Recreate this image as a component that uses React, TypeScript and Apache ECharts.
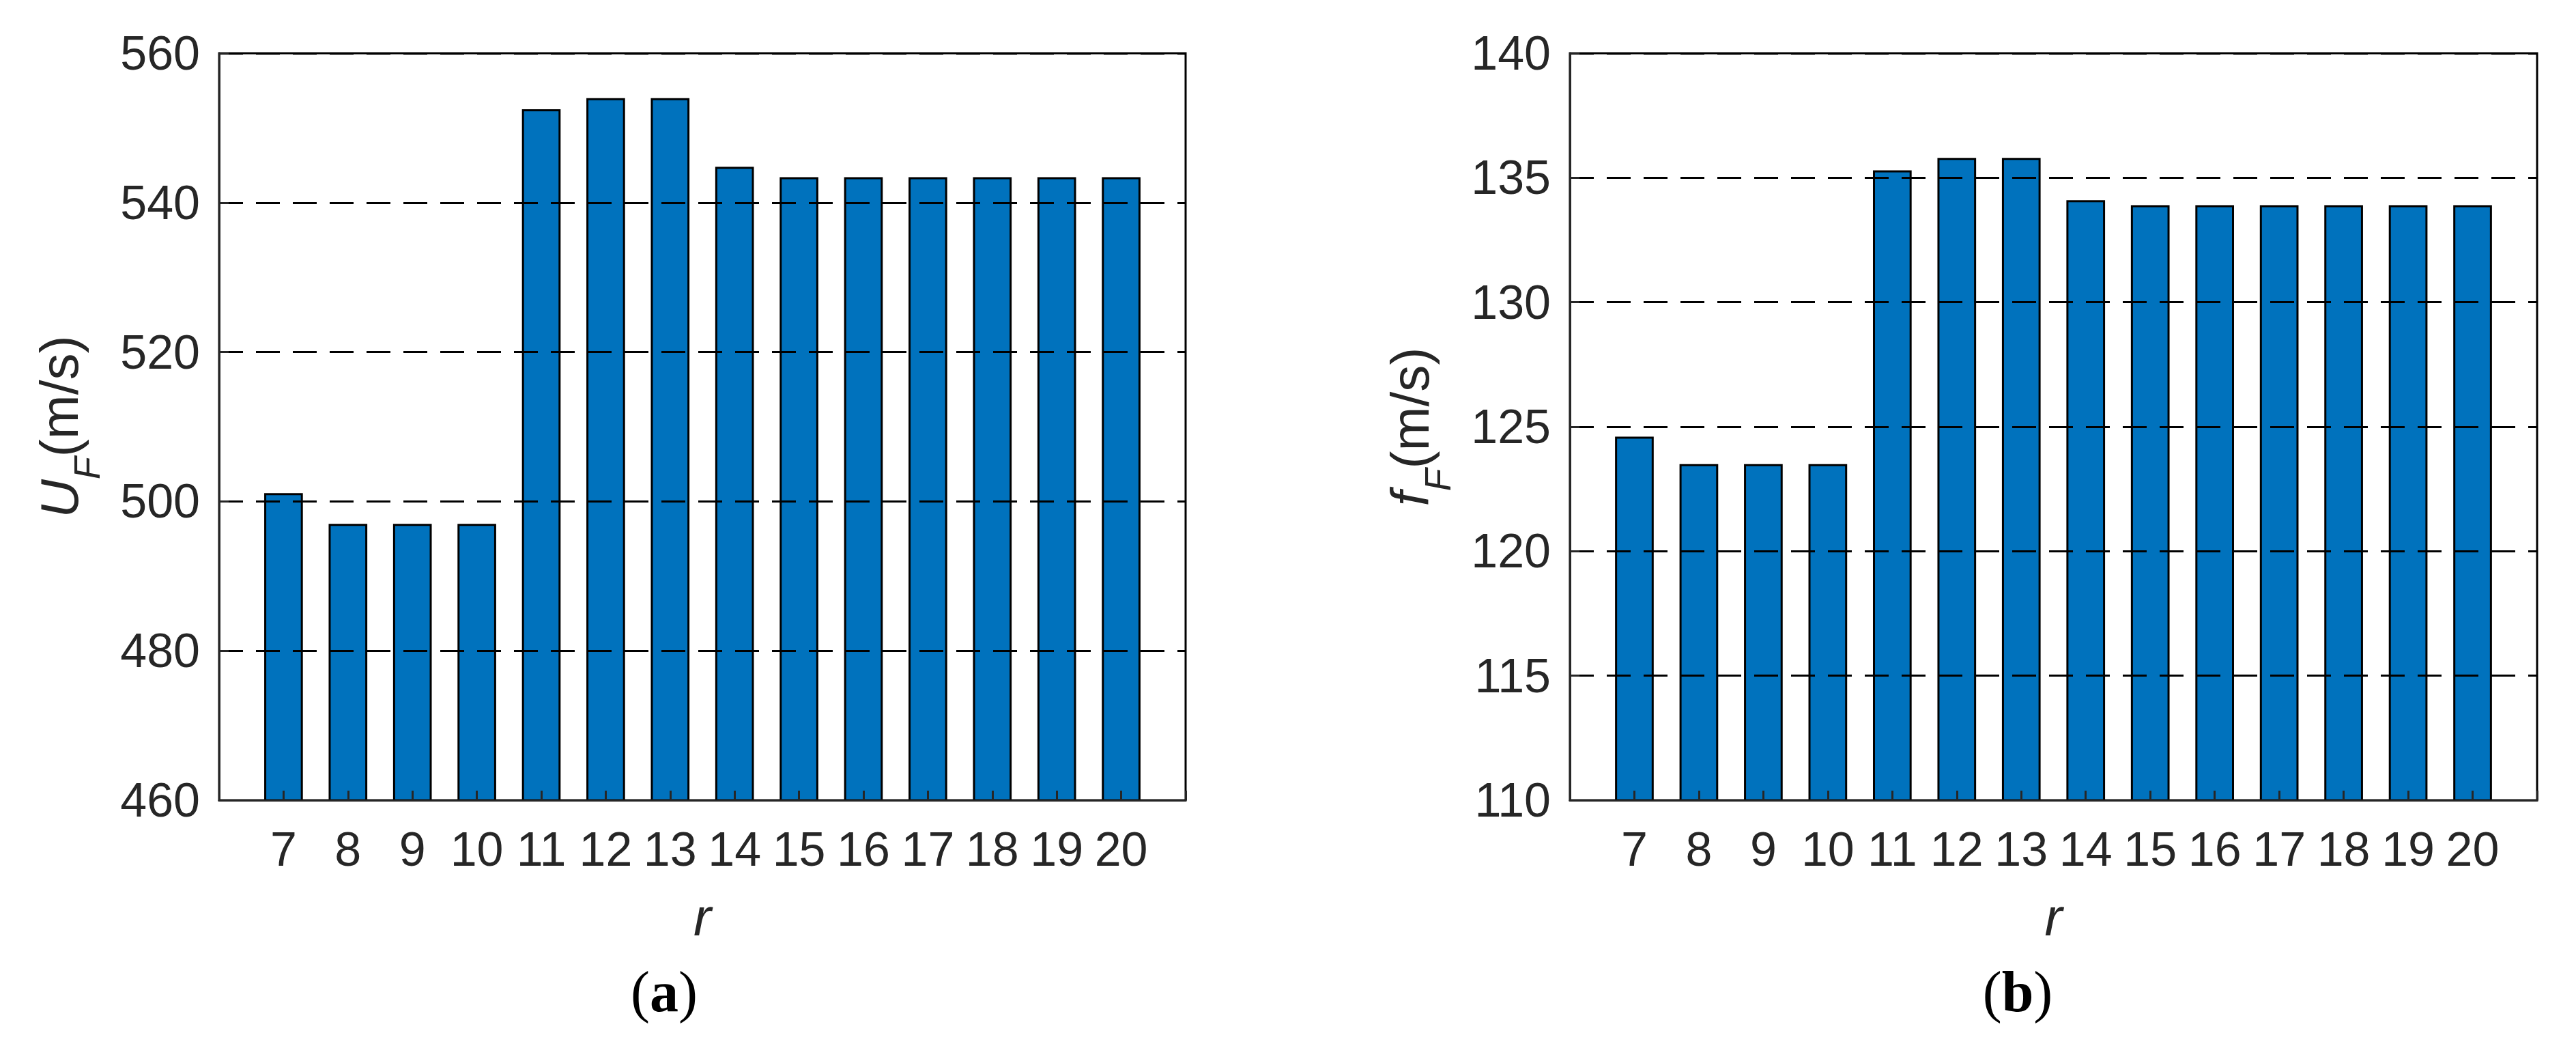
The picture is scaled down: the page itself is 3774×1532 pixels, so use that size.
import React, { useEffect, useRef } from "react";
import * as echarts from "echarts";

const categories = [7, 8, 9, 10, 11, 12, 13, 14, 15, 16, 17, 18, 19, 20];
const uF = [501.1, 497.0, 497.0, 497.0, 552.5, 554.0, 554.0, 544.8, 543.4, 543.4, 543.4, 543.4, 543.4, 543.4];
const fF = [124.6, 123.5, 123.5, 123.5, 135.3, 135.8, 135.8, 134.1, 133.9, 133.9, 133.9, 133.9, 133.9, 133.9];
const yTicksA = { min: 460, max: 560, interval: 20 };
const yTicksB = { min: 110, max: 140, interval: 5 };
const xRange = { min: 6, max: 21, interval: 1 };

const SANS = "'Liberation Sans', Arial, Helvetica, sans-serif";
const SERIF = "'Liberation Serif', 'Times New Roman', serif";
const INK = "#262626";

function titleRich() {
  return {
    i: { fontFamily: SANS, fontStyle: "italic", fontSize: 78, color: INK, verticalAlign: "bottom", padding: [0, 0, 28, 0] },
    s: { fontFamily: SANS, fontStyle: "italic", fontSize: 54, color: INK, verticalAlign: "bottom" },
    n: { fontFamily: SANS, fontSize: 78, color: INK, verticalAlign: "bottom", padding: [0, 0, 28, 0] },
  };
}

function xAxisOf(gridIndex: number) {
  return {
    type: "value",
    gridIndex,
    min: xRange.min,
    max: xRange.max,
    interval: xRange.interval,
    z: 5,
    name: "r",
    nameLocation: "middle",
    nameGap: 132,
    nameTextStyle: { fontFamily: SANS, fontStyle: "italic", fontSize: 78, color: INK },
    axisLine: { show: true, onZero: false, lineStyle: { color: INK, width: 3 } },
    axisTick: { show: true, inside: true, length: 14, lineStyle: { color: INK, width: 3 } },
    axisLabel: {
      margin: 37,
      fontFamily: SANS,
      fontSize: 70,
      color: INK,
      formatter: (v: number) => (categories.indexOf(v) >= 0 ? String(v) : ""),
    },
    splitLine: { show: false },
  };
}

function yAxisOf(gridIndex: number, t: { min: number; max: number; interval: number }, name: string) {
  return {
    type: "value",
    gridIndex,
    min: t.min,
    max: t.max,
    interval: t.interval,
    z: 5,
    name,
    nameLocation: "middle",
    nameGap: 167,
    nameTextStyle: { rich: titleRich() },
    axisLine: { show: true, onZero: false, lineStyle: { color: INK, width: 3 } },
    axisTick: { show: true, inside: true, length: 14, lineStyle: { color: INK, width: 3 } },
    axisLabel: { margin: 28, fontFamily: SANS, fontSize: 70, color: INK },
    splitLine: { show: true, lineStyle: { color: "#000", width: 3, type: [35, 19] } },
  };
}

export default function App() {
  const ref = useRef<HTMLDivElement>(null);
  useEffect(() => {
    if (!ref.current) return;
    const chart = echarts.init(ref.current, null, { renderer: "svg" });
    const dataA = categories.map((c, i) => [c, uF[i]]);
    const dataB = categories.map((c, i) => [c, fF[i]]);
    const barStyle = { color: "#0072BD", borderColor: "#000", borderWidth: 3 };
    chart.setOption({
      animation: false,
      backgroundColor: "#fff",
      grid: [
        { left: 321, top: 78, width: 1416, height: 1094, show: true, borderColor: "#000", borderWidth: 3, containLabel: false },
        { left: 2300, top: 78, width: 1417, height: 1094, show: true, borderColor: "#000", borderWidth: 3, containLabel: false },
      ],
      xAxis: [xAxisOf(0), xAxisOf(1)],
      yAxis: [
        yAxisOf(0, yTicksA, "{i|U}{s|F}{n|(m/s)}"),
        yAxisOf(1, yTicksB, "{i|f}{s|F}{n|(m/s)}"),
      ],
      series: [
        { type: "bar", xAxisIndex: 0, yAxisIndex: 0, data: dataA, barWidth: "60%", itemStyle: barStyle, z: 2 },
        { type: "bar", xAxisIndex: 1, yAxisIndex: 1, data: dataB, barWidth: "60%", itemStyle: barStyle, z: 2 },
      ],
      graphic: [
        {
          type: "text",
          x: 973,
          y: 1452,
          style: {
            text: "({b|a})",
            fontFamily: SERIF,
            fontSize: 84,
            fill: "#000",
            align: "center",
            verticalAlign: "middle",
            rich: { b: { fontFamily: SERIF, fontSize: 84, fontWeight: "bold", fill: "#000" } },
          },
        },
        {
          type: "text",
          x: 2956,
          y: 1452,
          style: {
            text: "({b|b})",
            fontFamily: SERIF,
            fontSize: 84,
            fill: "#000",
            align: "center",
            verticalAlign: "middle",
            rich: { b: { fontFamily: SERIF, fontSize: 84, fontWeight: "bold", fill: "#000" } },
          },
        },
      ],
    });
    return () => chart.dispose();
  }, []);
  return (
    <div
      ref={ref}
      style={{ position: "fixed", left: 0, top: 0, width: 3774, height: 1532, background: "#fff" }}
    />
  );
}
